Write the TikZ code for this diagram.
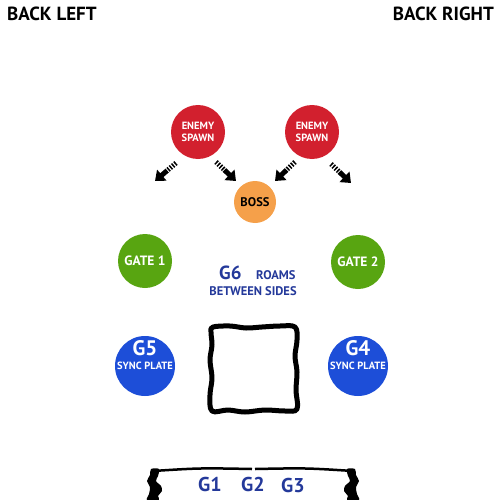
\documentclass[tikz,border=0pt]{standalone}
\usepackage{fontspec}
\setmainfont{PT Sans}
\usetikzlibrary{arrows.meta,calc}
\definecolor{spawnred}{HTML}{D2202E}
\definecolor{bossorange}{HTML}{F5A04A}
\definecolor{gategreen}{HTML}{58A511}
\definecolor{plateblue}{HTML}{1D4ED8}
\definecolor{textblue}{HTML}{24399A}
\newcommand{\fsz}[2]{\fontsize{#1}{#2}\selectfont\bfseries}
\begin{document}
\begin{tikzpicture}[x=1pt,y=-1pt,
  disc/.style={circle,inner sep=0pt,minimum size=#1,text=white,align=center},
  spawn/.style={disc=54pt,fill=spawnred,font=\fsz{10.5}{12}},
  boss/.style={disc=42pt,fill=bossorange,text=black,font=\fsz{12.5}{12}},
  gate/.style={disc=54pt,fill=gategreen,font=\fsz{13.5}{12}},
  plate/.style={disc=60pt,fill=plateblue},
  platebig/.style={text=white,inner sep=0pt,font=\fsz{21}{21}},
  platesmall/.style={text=white,inner sep=0pt,font=\fsz{10.5}{10}},
  corner/.style={inner sep=0pt,font=\fsz{19}{19}},
  bluetxt/.style={text=textblue,inner sep=0pt},
  stripe/.style={line width=5pt,dash pattern=on 1.5pt off 1.5pt},
  shaft/.style={line width=5pt,-{Triangle[length=9pt,width=14pt]}},
  wall/.style={line width=5pt,line join=round},
]
\useasboundingbox (0,0) rectangle (500,500);

\node[corner,anchor=base west] (bl) at (7,21) {BACK LEFT};
\node[corner,anchor=base east] (br) at (494,21) {BACK RIGHT};

\node[spawn] (s1) at (198,132) {ENEMY\\SPAWN};
\node[spawn] (s2) at (312,132) {ENEMY\\SPAWN};
\node[boss] (boss) at (255,202) {BOSS};
\node[gate] (gate1) at (145,261) {GATE 1};
\node[gate] (gate2) at (358,262) {GATE 2};

\node[plate] (g5) at (145,366) {};
\node[plate] (g4) at (358,366) {};
\node[platebig] (g5a) at (145,348) {G5};
\node[platesmall] (g5b) at (145,366) {SYNC PLATE};
\node[platebig] (g4a) at (358,348) {G4};
\node[platesmall] (g4b) at (358,366) {SYNC PLATE};

\node[bluetxt,anchor=base west,font=\fsz{19}{19}] (g6) at (219,279) {G6};
\node[bluetxt,anchor=base west,font=\fsz{12.5}{12}] (roams) at (256,279) {ROAMS};
\node[bluetxt,anchor=base,font=\fsz{12.5}{12}] (between) at (253,295) {BETWEEN SIDES};

% arrows
\coordinate (a1t) at (176,163); \coordinate (a1h) at (155,181);
\coordinate (a2t) at (216,162); \coordinate (a2h) at (236,181);
\coordinate (a3t) at (295,162); \coordinate (a3h) at (275,181);
\coordinate (a4t) at (331,164); \coordinate (a4h) at (351,183);
\foreach \a in {1,2,3,4}{
  \draw[stripe] (a\a t) -- ($(a\a t)!0.45!(a\a h)$);
  \draw[shaft] ($(a\a t)!0.42!(a\a h)$) -- (a\a h);
}

% wavy square
\draw[wall] plot[smooth cycle,tension=0.6] coordinates {
 (213,327) (230,326) (246,328) (262,327) (280,326) (295,327)
 (297,340) (295,356) (297,372) (296,390) (297,409)
 (285,411) (265,410) (245,412) (228,410) (212,411)
 (210,395) (212,378) (210,360) (212,345) (211,332)};

% bottom edge
\coordinate (bl0) at (153,471); \coordinate (bm1) at (252,469);
\coordinate (bm2) at (255,469); \coordinate (br0) at (353,471);
\draw[line width=2.5pt] (bl0) .. controls (200,468) .. (bm1);
\draw[line width=2.5pt] (bm2) .. controls (306,468) .. (br0);
\fill[black] plot[smooth cycle,tension=0.5] coordinates {
 (151,469) (159,469) (158,476) (156,481) (161,486) (162,491)
 (158,496) (159,500) (147,500) (149,494) (150,487) (147,481) (150,475)};
\fill[black] plot[smooth cycle,tension=0.5] coordinates {
 (355,469) (347,469) (348,476) (350,481) (345,486) (344,491)
 (348,496) (347,500) (359,500) (357,494) (356,487) (359,481) (356,475)};

\node[bluetxt,anchor=base,font=\fsz{20}{20}] (g1) at (210,491) {G1};
\node[bluetxt,anchor=base,font=\fsz{20}{20}] (g2) at (253,491) {G2};
\node[bluetxt,anchor=base,font=\fsz{20}{20}] (g3) at (293,492) {G3};
\end{tikzpicture}
\end{document}
